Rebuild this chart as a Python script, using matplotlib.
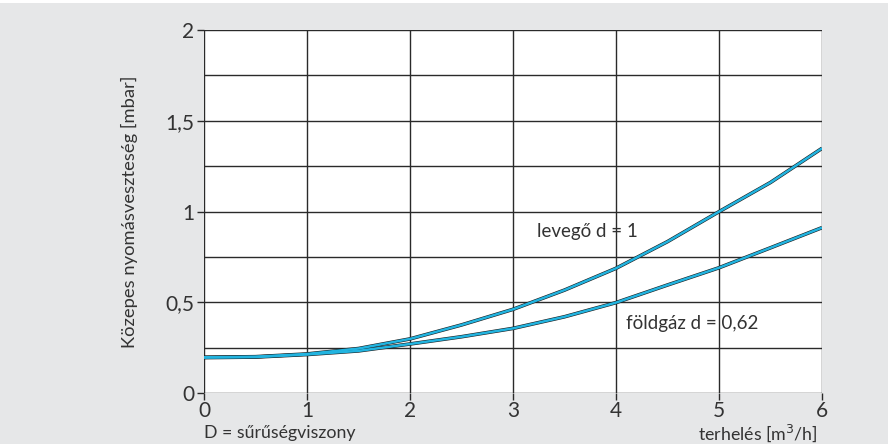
import matplotlib.pyplot as plt
import matplotlib.patches as patches
import numpy as np

# curve readings (x in m3/h, y in mbar)
load = [0, 0.5, 1, 1.5, 2, 2.5, 3, 3.5, 4, 4.5, 5, 5.5, 6]
air = [0.197, 0.200, 0.215, 0.245, 0.298, 0.375, 0.461, 0.567, 0.687, 0.834, 0.999, 1.160, 1.348]
natgas = [0.195, 0.198, 0.212, 0.232, 0.270, 0.310, 0.356, 0.420, 0.498, 0.595, 0.690, 0.800, 0.911]

xticks = [0, 1, 2, 3, 4, 5, 6]
yticks = [0, 0.5, 1, 1.5, 2]
ytick_labels = ["0", "0,5", "1", "1,5", "2"]

bg = "#e6e7e8"
txt = "#333333"
cyan = "#22b4e0"

plt.rcParams['font.family'] = ['Lato', 'DejaVu Sans']

fig = plt.figure(figsize=(8.88, 4.44), dpi=100)
fig.patch.set_facecolor("white")
fig.patches.append(patches.Rectangle((0, 0), 1, 1 - 3/444, transform=fig.transFigure,
                                     facecolor=bg, edgecolor="none", zorder=-10))

ax = fig.add_axes([204/888, 1 - 393/444, 618/888, 363/444])
ax.set_facecolor("white")
ax.set_xlim(0, 6)
ax.set_ylim(0, 2)

# grid: every integer on x, every 0.25 on y
for gx in xticks:
    ax.axvline(gx, color="#2a2a2a", lw=1.0, zorder=1)
for gy in np.arange(0, 2.01, 0.25):
    ax.axhline(gy, color="#2a2a2a", lw=1.0, zorder=1)

for sp in ax.spines.values():
    sp.set_visible(False)

# curves: dark edge under a cyan stroke
for ys in (air, natgas):
    ax.plot(load, ys, color="#1a1a1a", lw=2.6, zorder=3, solid_capstyle="butt")
    ax.plot(load, ys, color=cyan, lw=1.8, zorder=4, solid_capstyle="butt")

ax.set_xticks(xticks)
ax.set_xticklabels([str(v) for v in xticks])
ax.set_yticks(yticks)
ax.set_yticklabels(ytick_labels)
ax.tick_params(axis="both", direction="out", length=5, width=1.0, color="#2a2a2a",
               labelsize=15, labelcolor=txt)
ax.tick_params(axis="x", pad=1)
ax.tick_params(axis="y", pad=2)

ax.set_ylabel("Közepes nyomásveszteség [mbar]", fontsize=13.2, color=txt, labelpad=20)

ax.text(3.23, 0.889, "levegő d = 1", fontsize=13.5, color=txt, va="center", ha="left", zorder=5)
ax.text(4.10, 0.384, "földgáz d = 0,62", fontsize=13.5, color=txt, va="center", ha="left", zorder=5)

fig.text(204/888, 1 - 433/444, "D = sűrűségviszony", fontsize=12.8, color=txt, va="center", ha="left")
fig.text(818/888, 1 - 433/444, "terhelés [m$^3$/h]", fontsize=12.8, color=txt, va="center", ha="right")

fig.savefig("out.png", dpi=100)
